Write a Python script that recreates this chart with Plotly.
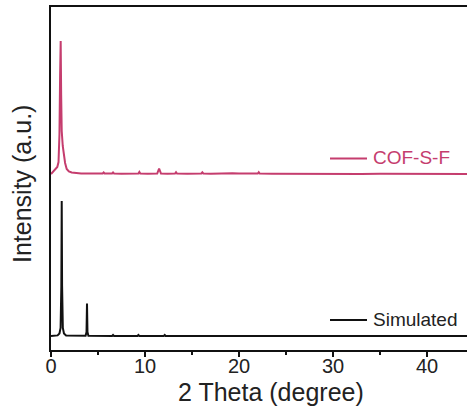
import plotly.graph_objects as go

# ---- data (2 theta in degrees, intensity in arbitrary units) ----
cof_x = [0, 0.2, 0.43, 0.67, 0.8, 0.9, 0.97, 1.03, 1.08, 1.14, 1.25, 1.38, 1.5, 1.67, 1.9, 2.2, 2.6,
         3.2, 4.0, 4.8, 5.5, 5.6, 5.7, 6.2, 6.5, 6.6, 6.7, 7.5, 8.5, 9.3, 9.4, 9.5, 10.3, 11.3, 11.5,
         11.7, 12.4, 13.2, 13.3, 13.4, 14.5, 15.5, 16.0, 16.1, 16.2, 17.0, 17.8, 18.3, 18.5, 18.7,
         19.3, 20.0, 21.0, 22.0, 22.1, 22.2, 23.5, 25.0, 26.5, 28.0, 29.5, 31.0, 33.0, 35.0, 37.0,
         39.0, 41.0, 43.0, 44.3]
cof_y = [0, 2, 4, 7, 12, 40, 100, 133, 80, 43, 28, 19, 11, 5, 2.5, 1.5, 1.0,
         0.6, 0.5, 0.4, 0.5, 1.5, 0.5, 0.4, 0.5, 1.5, 0.5, 0.3, 0.4, 0.5, 2.0, 0.5, 0.3, 0.4, 5.5,
         0.5, 0.3, 0.5, 1.8, 0.5, 0.3, 0.3, 0.5, 1.6, 0.5, 0.3, 0.5, 0.8, 1.2, 0.6,
         0.8, 0.4, 0.3, 0.5, 1.8, 0.5, 0.3, 0.2, 0.4, 0.2, 0.3, 0.2, 0.1, 0.3, 0.1,
         0.2, 0.0, 0.1, 0.0]

sim_x = [0, 0.7, 0.9, 1.02, 1.1, 1.14, 1.18, 1.26, 1.38, 1.6, 3.68, 3.78, 3.83, 3.88, 3.98,
         6.5, 6.6, 6.7, 9.2, 9.3, 9.4, 12.0, 12.1, 12.2, 44.3]
sim_y = [0, 0.6, 2.5, 8, 50, 135, 50, 8, 2.5, 0.6, 0.3, 4, 32.5, 4, 0.3,
         0, 1, 0, 0, 1, 0, 0, 1, 0, 0]

# vertical stacking offsets (arbitrary units)
cof_offset = 176
sim_offset = 14

series_names = ["COF-S-F", "Simulated"]
x_ticks = [0, 10, 20, 30, 40]

PINK = "#c53d6e"
BLACK = "#111111"
TEXT = "#222222"
FONT = "Arial, Liberation Sans, sans-serif"

fig = go.Figure()
fig.add_trace(go.Scatter(x=cof_x, y=[v + cof_offset for v in cof_y], mode="lines",
                         line=dict(color=PINK, width=2), name=series_names[0], showlegend=False))
fig.add_trace(go.Scatter(x=sim_x, y=[v + sim_offset for v in sim_y], mode="lines",
                         line=dict(color=BLACK, width=2), name=series_names[1], showlegend=False))

W, H = 467, 412
L, R, T, B = 51, 0, 7, 62
pw, ph = W - L - R, H - T - B


def px(xp):
    return (xp - L) / pw


def py(yp):
    return (H - B - yp) / ph


# legend keys
for name, col, ypix, tcol in [(series_names[0], PINK, 158.5, PINK), (series_names[1], BLACK, 320, TEXT)]:
    fig.add_shape(type="line", xref="paper", yref="paper", x0=px(330), x1=px(367),
                  y0=py(ypix), y1=py(ypix), line=dict(color=col, width=2))
    fig.add_annotation(xref="paper", yref="paper", x=px(371), y=py(ypix - 1), text=name,
                       showarrow=False, xanchor="left", yanchor="middle",
                       font=dict(family=FONT, size=19, color=tcol))

# axis titles
fig.add_annotation(xref="paper", yref="paper", x=px(271), y=py(392), text="2 Theta (degree)",
                   showarrow=False, xanchor="center", yanchor="middle",
                   font=dict(family=FONT, size=25, color=TEXT))
fig.add_annotation(xref="paper", yref="paper", x=px(22), y=py(184), text="Intensity (a.u.)",
                   showarrow=False, xanchor="center", yanchor="middle", textangle=-90,
                   font=dict(family=FONT, size=25, color=TEXT))

fig.update_xaxes(range=[0, (W - L) / 9.4], tickvals=x_ticks, ticktext=[str(t) for t in x_ticks],
                 showline=True, linecolor=BLACK, linewidth=2, mirror=True,
                 ticks="outside", ticklen=5, tickwidth=2, tickcolor=BLACK,
                 ticklabelstandoff=-8,
                 minor=dict(dtick=5, tick0=0, ticks="outside", ticklen=3, tickwidth=2, tickcolor=BLACK),
                 tickfont=dict(family=FONT, size=20, color=TEXT),
                 showgrid=False, zeroline=False)
fig.update_yaxes(range=[0, ph], showline=True, linecolor=BLACK, linewidth=2, mirror=False,
                 ticks="", showticklabels=False, showgrid=False, zeroline=False)

fig.update_layout(width=W, height=H, margin=dict(l=L, r=R, t=T, b=B),
                  paper_bgcolor="white", plot_bgcolor="white", showlegend=False)

fig.write_html("out.html")
